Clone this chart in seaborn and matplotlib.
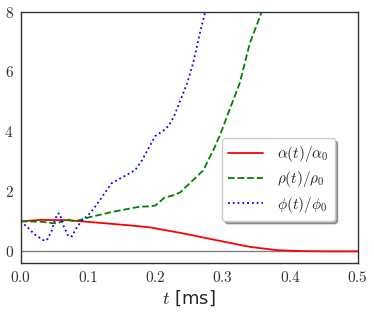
import numpy as np
import pandas as pd
import matplotlib
matplotlib.use("Agg")
import matplotlib.pyplot as plt
import seaborn as sns

# --- data ---
t_alpha = [0.0, 0.03, 0.069, 0.118, 0.16, 0.192, 0.241, 0.291, 0.34, 0.38, 0.414, 0.45, 0.5]
alpha = [1.0, 1.05, 1.04, 0.95, 0.87, 0.8, 0.6, 0.37, 0.15, 0.04, 0.01, 0.0, 0.0]

t_rho = [0.0, 0.03, 0.048, 0.056, 0.068, 0.081, 0.104, 0.118, 0.137, 0.177, 0.192, 0.2, 0.214, 0.227,
         0.237, 0.251, 0.271, 0.288, 0.298, 0.308, 0.325, 0.34, 0.358]
rho = [1.0, 0.99, 0.94, 0.95, 1.07, 1.0, 1.15, 1.22, 1.32, 1.49, 1.5, 1.53, 1.8, 1.87,
       1.97, 2.27, 2.7, 3.47, 4.0, 4.6, 5.6, 6.93, 8.0]

t_phi = [0.0, 0.011, 0.021, 0.034, 0.039, 0.046, 0.051, 0.055, 0.058, 0.063, 0.071, 0.076,
         0.083, 0.090, 0.104, 0.118, 0.135, 0.17, 0.18, 0.192, 0.2, 0.212,
         0.22, 0.227, 0.237, 0.247, 0.256, 0.266, 0.274]
phi = [1.0, 0.79, 0.56, 0.37, 0.37, 0.67, 1.06, 1.26, 1.26, 0.89, 0.5, 0.5,
       0.78, 1.0, 1.29, 1.72, 2.27, 2.71, 3.03, 3.53, 3.85, 4.03,
       4.2, 4.47, 5.03, 5.6, 6.27, 7.27, 8.0]

labels = [r"$\alpha(t)/\alpha_0$", r"$\rho(t)/\rho_0$", r"$\phi(t)/\phi_0$"]
xticks = [0.0, 0.1, 0.2, 0.3, 0.4, 0.5]
yticks = [0, 2, 4, 6, 8]

sns.set_style("white")
plt.rcParams["font.family"] = ["DejaVu Sans"]
plt.rcParams["mathtext.fontset"] = "cm"

fig = plt.figure(figsize=(3.74, 3.12), dpi=100)
ax = fig.add_axes([0.055, 0.156, 0.901, 0.807])

ax.axhline(0, color="gray", lw=1.0, zorder=1)

sns.lineplot(x=t_alpha, y=alpha, ax=ax, color="red", lw=1.3, label=labels[0])
sns.lineplot(x=t_rho, y=rho, ax=ax, color="green", lw=1.3, linestyle="--", label=labels[1])
sns.lineplot(x=t_phi, y=phi, ax=ax, color="blue", lw=1.3, linestyle=":", label=labels[2])

ax.set_xlim(0, 0.5)
ax.set_ylim(-0.4, 8)
ax.set_xticks(xticks)
ax.set_xticklabels([f"${v:.1f}$" for v in xticks], fontsize=11)
ax.set_yticks(yticks)
ax.set_yticklabels([f"${v}$" for v in yticks], fontsize=11)
ax.tick_params(direction="out", length=3, width=0.8, pad=2, colors="#333333")
for s in ax.spines.values():
    s.set_color("#333333")
    s.set_linewidth(1.0)
ax.set_xlabel(r"$t$ [ms]", fontsize=13, labelpad=2)
ax.set_ylabel("")

leg = ax.legend(loc="center right", bbox_to_anchor=(0.955, 0.333), fontsize=11,
                shadow=True, fancybox=True, frameon=True, handlelength=2.3,
                borderpad=0.4, labelspacing=0.35, handletextpad=0.9)
leg.get_frame().set_edgecolor("#cccccc")

fig.savefig("out.png", dpi=100)
